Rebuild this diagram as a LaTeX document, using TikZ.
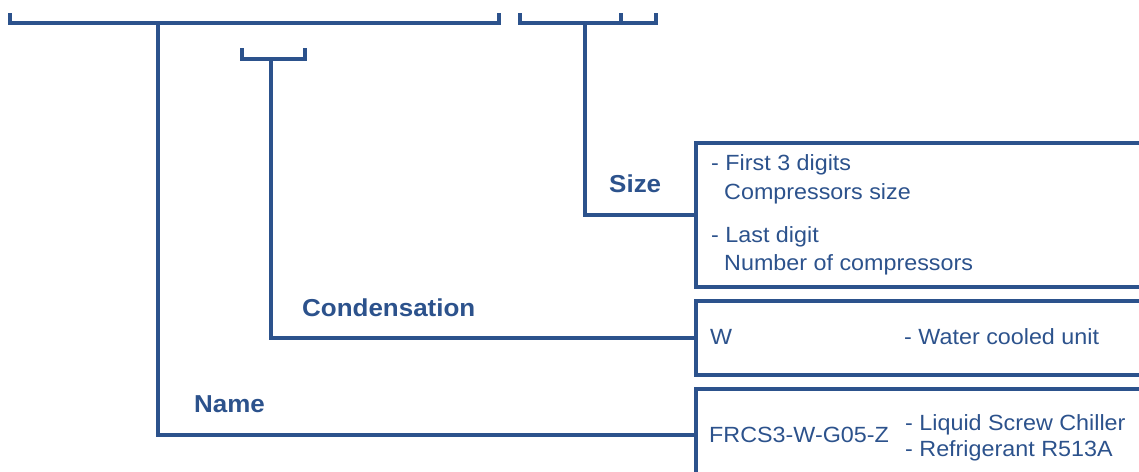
\documentclass[tikz,border=0pt]{standalone}
\usepackage{fontspec}
\setmainfont{Liberation Sans}[FakeStretch=1.06]
\definecolor{codeblue}{RGB}{44,82,140}
\tikzset{
  bracket/.style={
    draw=codeblue,
    line width=4.5pt
  },
  stem/.style={draw=codeblue, line width=3.5pt},
  fieldbox/.style={
    rectangle,
    draw=codeblue,
    line width=3.5pt,
    anchor=north west,
    minimum width=480pt,
    inner sep=0pt
  },
  fieldlabel/.style={
    text=codeblue,
    font=\fontsize{24.5}{29}\selectfont\bfseries,
    anchor=base west,
    inner sep=0pt
  },
  fieldtext/.style={
    text=codeblue,
    font=\fontsize{22}{26}\selectfont,
    anchor=base west,
    inner sep=0pt
  }
}

\begin{document}
\begin{tikzpicture}[x=1pt, y=-1pt]
  \useasboundingbox (0,0) rectangle (1139,471);
  \clip (0,0) rectangle (1139,471);
  % code brackets
  \draw[bracket] (10,13) -- (10,23) -- (499,23) -- (499,13);
  \draw[bracket] (242,48) -- (242,59) -- (305,59) -- (305,48);
  \draw[bracket] (520,13) -- (520,23) -- (656,23) -- (656,13);
  \draw[bracket] (621,13) -- (621,23);
  \coordinate (nametop) at (158,23);
  \coordinate (condtop) at (271,59);
  \coordinate (sizetop) at (585,23);
  % description boxes
  \node[fieldbox, minimum height=144pt] (sizebox) at (694,141) {};
  \node[fieldbox, minimum height=74pt] (condbox) at (694,299) {};
  \node[fieldbox, minimum height=92pt] (namebox) at (694,387) {};
  \draw[stem] (sizetop) |- (sizebox.west);
  \draw[stem] (condtop) |- (condbox.west);
  \draw[stem] (nametop) |- (namebox.west);
  % labels
  \node[fieldlabel] (sizelabel) at (609,192) {Size};
  \node[fieldlabel] (condlabel) at (302,316) {Condensation};
  \node[fieldlabel] (namelabel) at (194,412) {Name};
  \node[fieldtext] (sizefirst) at (711,170) {- First 3 digits};
  \node[fieldtext] (sizecomp) at (724,199) {Compressors size};
  \node[fieldtext] (sizelast) at (711,242) {- Last digit};
  \node[fieldtext] (sizenum) at (724,270) {Number of compressors};
  \node[fieldtext] (condcode) at (710,344) {W};
  \node[fieldtext] (conddesc) at (904,344) {- Water cooled unit};
  \node[fieldtext] (namecode) at (709,442) {FRCS3-W-G05-Z};
  \node[fieldtext] (nameliquid) at (905,430) {- Liquid Screw Chiller};
  \node[fieldtext] (namerefr) at (905,456) {- Refrigerant R513A};
\end{tikzpicture}
\end{document}
